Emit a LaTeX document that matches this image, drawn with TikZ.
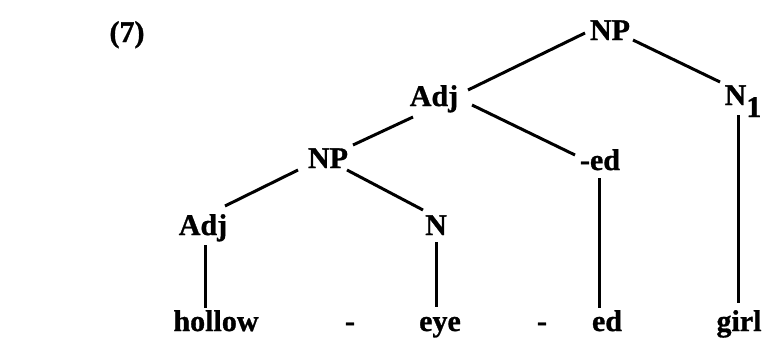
\documentclass[tikz,border=0pt]{standalone}
\usepackage{fontspec}
\setmainfont{Liberation Serif}[BoldFeatures={FakeBold=1}]
\usetikzlibrary{calc}
\begin{document}
\begin{tikzpicture}[x=1pt,y=-1pt,
  lab/.style={anchor=base,inner sep=0pt,font=\fontsize{30}{32}\selectfont\bfseries},
  edge/.style={line width=3pt}]
\useasboundingbox (0,0) rectangle (767,351);
\node[lab] (ex) at (127,42) {(7)};
\node[lab] (np1) at (610,40) {NP};
\node[lab] (adj1) at (434,106) {Adj};
\node[lab] (n1) at (743,105) {N\kern0pt\raisebox{-12pt}{1}};
\node[lab] (np2) at (328,168) {NP};
\node[lab] (ed1) at (600,170) {-ed};
\node[lab] (adj2) at (203,235) {Adj};
\node[lab] (n2) at (436,235) {N};
\node[lab] (w1) at (216,331) {hollow};
\node[lab] (h1) at (350,331) {-};
\node[lab] (w2) at (440,331) {eye};
\node[lab] (h2) at (542,331) {-};
\node[lab] (w3) at (607,331) {ed};
\node[lab] (w4) at (739,331) {girl};
\draw[edge] ($(np1.base)+(-25,-7)$) -- ($(adj1.base)+(34,-16)$);
\draw[edge] ($(np1.base)+(23,0)$) -- ($(n1.base)+(-23,-23)$);
\draw[edge] ($(adj1.base)+(-21,11)$) -- ($(np2.base)+(25,-23)$);
\draw[edge] ($(adj1.base)+(38,-1)$) -- ($(ed1.base)+(-25,-15)$);
\draw[edge] ($(np2.base)+(-30,2)$) -- ($(adj2.base)+(22,-29)$);
\draw[edge] ($(np2.base)+(19,2)$) -- ($(n2.base)+(-13,-25)$);
\draw[edge] ($(adj2.base)+(2,10)$) -- ($(w1.base)+(-11,-23)$);
\draw[edge] ($(n2.base)+(0,7)$) -- ($(w2.base)+(-4,-24)$);
\draw[edge] ($(ed1.base)+(-1,8)$) -- ($(w3.base)+(-8,-23)$);
\draw[edge] ($(n1.base)+(-5,10)$) -- ($(w4.base)+(-1,-28)$);
\end{tikzpicture}
\end{document}
